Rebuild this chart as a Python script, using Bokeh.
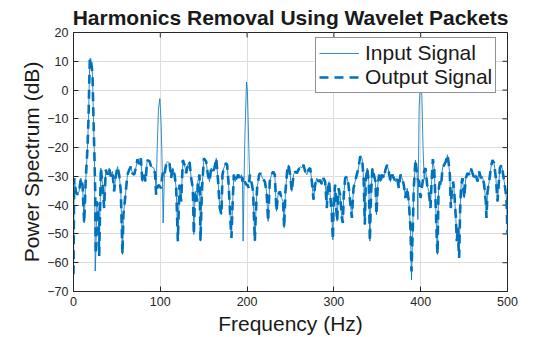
import math
from bokeh.plotting import figure
from bokeh.models import Legend, FixedTicker, Range1d
from bokeh.embed import file_html
from bokeh.resources import INLINE

freq_hz = [
    0.0, 0.8, 2.7, 4.6, 6.5, 8.4, 10.4, 12.3, 14.2, 16.1,
    17.3, 18.0, 18.8, 20.0, 21.0, 21.9, 23.0, 24.2, 25.0, 25.7,
    26.9, 28.4, 29.6, 31.5, 33.4, 35.3, 37.2, 39.2, 41.1, 43.0,
    44.9, 46.8, 48.7, 50.7, 52.6, 54.5, 56.4, 57.5, 59.5, 62.2,
    64.2, 66.0, 68.0, 69.9, 71.8, 73.7, 75.6, 77.6, 79.4, 81.4,
    83.0, 84.9, 87.6, 89.5, 92.6, 94.1, 95.2, 96.4, 97.9, 99.5,
    101.0, 102.2, 103.3, 104.8, 106.8, 108.7, 110.6, 112.5, 114.4, 116.4,
    118.3, 120.2, 122.1, 124.0, 126.0, 127.9, 129.8, 131.7, 133.6, 135.6,
    137.5, 138.6, 140.2, 142.5, 143.2, 145.2, 146.3, 147.9, 150.2, 152.8,
    154.8, 156.7, 158.6, 160.5, 162.4, 164.5, 166.6, 168.5, 170.5, 171.6,
    173.2, 175.5, 177.0, 178.5, 180.1, 181.2, 182.0, 183.1, 184.7, 186.2,
    187.8, 189.7, 191.6, 193.5, 194.7, 195.4, 197.3, 199.3, 200.4, 202.0,
    203.1, 205.0, 206.9, 208.9, 210.0, 211.5, 213.9, 215.4, 217.7, 220.4,
    222.4, 224.2, 226.1, 228.1, 230.0, 231.9, 233.8, 235.7, 237.7, 239.6,
    241.5, 242.7, 244.2, 246.1, 247.7, 249.6, 251.5, 253.5, 255.4, 257.3,
    259.2, 261.1, 263.1, 265.0, 266.9, 268.8, 270.7, 272.7, 274.6, 276.5,
    278.4, 280.3, 282.3, 284.2, 286.1, 288.0, 289.9, 291.9, 293.0, 294.5,
    295.7, 297.6, 298.8, 299.9, 301.5, 302.6, 303.8, 305.3, 307.2, 309.1,
    310.3, 311.4, 313.0, 314.9, 316.8, 318.7, 320.7, 322.6, 324.5, 326.4,
    328.3, 330.3, 332.5, 334.4, 335.6, 336.7, 338.3, 340.2, 341.4, 342.9,
    344.4, 346.0, 347.9, 349.0, 350.6, 352.1, 353.6, 355.6, 357.5, 359.4,
    361.3, 363.2, 365.2, 367.1, 369.0, 370.9, 372.8, 374.8, 376.7, 378.6,
    380.5, 382.4, 384.4, 386.3, 388.2, 389.4, 390.9, 392.0, 394.0, 395.9,
    396.7, 398.2, 399.8, 401.3, 402.7, 404.0, 405.5, 407.4, 409.3, 411.3,
    412.4, 414.0, 415.5, 417.4, 418.6, 419.4, 420.5, 422.0, 423.6, 425.1,
    427.0, 429.0, 430.9, 432.0, 433.6, 434.7, 435.9, 437.4, 438.6, 440.5,
    441.6, 442.8, 443.6, 444.3, 445.5, 446.6, 448.2, 450.1, 452.0, 453.9,
    455.8, 457.8, 459.7, 461.6, 463.5, 465.4, 467.4, 469.3, 471.2, 473.1,
    475.0, 475.8, 477.0, 478.9, 480.8, 482.7, 484.6, 486.6, 488.5, 489.6,
    491.2, 493.1, 495.0, 496.2, 497.3, 498.8, 500.0,
]

input_db = [
    -64.0, -30.6, -35.2, -36.4, -35.2, -30.6, -32.9, -46.2, -30.6, -20.2,
    -9.8, 0.5, 10.9, 11.0, 8.0, 5.2, -9.8, -23.7, -62.9, -57.1,
    -38.7, -41.0, -57.7, -27.1, -32.9, -41.0, -27.7, -29.4, -27.1, -30.0,
    -28.3, -35.2, -30.0, -26.6, -29.4, -35.2, -57.1, -43.3, -37.5, -29.4,
    -27.7, -26.6, -29.0, -29.4, -27.1, -24.0, -26.0, -23.7, -31.8, -29.4,
    -31.8, -24.3, -24.8, -26.6, -27.1, -29.4, -36.0, -20.2, -6.4, -3.0,
    -12.0, -27.0, -46.2, -28.3, -25.5, -24.8, -25.4, -30.6, -27.1, -29.4,
    -34.1, -52.5, -32.9, -38.7, -24.3, -26.0, -28.9, -26.0, -24.8, -30.6,
    -34.1, -50.2, -35.2, -38.7, -31.8, -29.4, -52.5, -35.2, -23.7, -24.8,
    -29.4, -31.8, -27.1, -28.3, -27.1, -23.7, -31.8, -41.0, -43.3, -29.4,
    -27.1, -25.4, -26.0, -31.8, -41.0, -47.9, -51.4, -41.0, -29.4, -31.8,
    -30.6, -29.4, -30.6, -29.4, -31.8, -52.5, -18.0, 2.8, -0.6, -20.2,
    -31.8, -31.8, -35.2, -52.5, -43.3, -34.1, -29.4, -28.9, -30.6, -31.8,
    -35.2, -45.6, -31.8, -29.4, -28.3, -29.4, -42.1, -36.4, -35.2, -37.5,
    -38.7, -47.9, -35.2, -28.3, -26.0, -29.4, -35.2, -29.4, -28.3, -28.9,
    -27.7, -26.6, -27.1, -26.0, -28.3, -29.4, -27.7, -27.1, -31.8, -38.1,
    -32.9, -30.6, -31.8, -31.2, -32.9, -30.6, -31.8, -41.0, -32.9, -31.8,
    -36.4, -43.3, -52.0, -37.5, -32.9, -41.0, -45.6, -34.1, -36.4, -44.4,
    -46.2, -36.4, -30.6, -30.0, -32.9, -38.7, -44.4, -34.1, -31.8, -29.4,
    -27.1, -23.1, -23.7, -31.8, -46.7, -31.8, -27.1, -31.8, -52.5, -35.2,
    -27.1, -29.4, -31.8, -43.3, -32.9, -29.4, -31.8, -29.4, -30.6, -27.7,
    -26.0, -28.3, -31.8, -29.4, -30.6, -31.8, -30.6, -34.1, -29.4, -30.6,
    -32.9, -37.5, -34.1, -38.7, -47.9, -66.0, -47.9, -34.1, -24.3, -29.4,
    -45.0, -6.4, 4.0, -2.0, -20.0, -31.0, -27.1, -32.9, -35.2, -41.0,
    -32.9, -24.0, -27.1, -41.0, -52.5, -57.1, -35.2, -31.8, -32.9, -27.1,
    -26.0, -24.8, -22.5, -24.8, -29.4, -41.0, -35.2, -31.8, -35.2, -44.4,
    -52.5, -47.9, -54.8, -58.3, -41.0, -32.9, -30.6, -37.5, -30.6, -28.9,
    -29.4, -27.1, -28.9, -30.6, -29.4, -31.8, -28.3, -30.6, -30.0, -32.9,
    -38.7, -44.4, -35.2, -31.8, -27.1, -24.3, -25.4, -30.6, -38.7, -34.1,
    -27.1, -26.0, -29.4, -31.8, -34.1, -37.5, -50.0,
]

output_db = [
    -64.0, -30.6, -35.2, -36.4, -35.2, -30.6, -32.9, -46.2, -30.6, -20.2,
    -9.8, 0.5, 10.9, 11.0, 8.0, 5.2, -9.8, -23.7, -35.2, -57.1,
    -38.7, -41.0, -57.7, -27.1, -32.9, -41.0, -27.7, -29.4, -27.1, -30.0,
    -28.3, -35.2, -30.0, -26.6, -29.4, -35.2, -57.1, -43.3, -37.5, -29.4,
    -27.7, -26.6, -29.0, -29.4, -27.1, -24.0, -26.0, -23.7, -31.8, -29.4,
    -31.8, -24.3, -24.8, -26.6, -27.1, -29.4, -36.4, -34.0, -33.0, -33.5,
    -34.1, -30.0, -28.3, -29.4, -25.5, -24.8, -25.4, -30.6, -27.1, -29.4,
    -34.1, -52.5, -32.9, -38.7, -24.3, -26.0, -28.9, -26.0, -24.8, -30.6,
    -34.1, -50.2, -35.2, -38.7, -31.8, -29.4, -52.5, -35.2, -23.7, -24.8,
    -29.4, -31.8, -27.1, -28.3, -27.1, -23.7, -31.8, -41.0, -43.3, -29.4,
    -27.1, -25.4, -26.0, -31.8, -41.0, -47.9, -51.4, -41.0, -29.4, -31.8,
    -30.6, -29.4, -30.6, -29.4, -31.8, -30.0, -31.8, -33.0, -32.9, -34.1,
    -29.4, -31.8, -35.2, -52.5, -43.3, -34.1, -29.4, -28.9, -30.6, -31.8,
    -35.2, -45.6, -31.8, -29.4, -28.3, -29.4, -42.1, -36.4, -35.2, -37.5,
    -38.7, -47.9, -35.2, -28.3, -26.0, -29.4, -35.2, -29.4, -28.3, -28.9,
    -27.7, -26.6, -27.1, -26.0, -28.3, -29.4, -27.7, -27.1, -31.8, -38.1,
    -32.9, -30.6, -31.8, -31.2, -32.9, -30.6, -31.8, -41.0, -32.9, -31.8,
    -36.4, -43.3, -52.0, -37.5, -32.9, -41.0, -45.6, -34.1, -36.4, -44.4,
    -46.2, -36.4, -30.6, -30.0, -32.9, -38.7, -44.4, -34.1, -31.8, -29.4,
    -27.1, -23.1, -23.7, -31.8, -46.7, -31.8, -27.1, -31.8, -52.5, -35.2,
    -27.1, -29.4, -31.8, -43.3, -32.9, -29.4, -31.8, -29.4, -30.6, -27.7,
    -26.0, -28.3, -31.8, -29.4, -30.6, -31.8, -30.6, -34.1, -29.4, -30.6,
    -32.9, -37.5, -34.1, -38.7, -47.9, -63.0, -47.9, -34.1, -24.3, -29.4,
    -31.0, -31.8, -37.5, -34.1, -31.0, -28.3, -27.1, -32.9, -35.2, -41.0,
    -32.9, -24.0, -27.1, -41.0, -52.5, -57.1, -35.2, -31.8, -32.9, -27.1,
    -26.0, -24.8, -22.5, -24.8, -29.4, -41.0, -35.2, -31.8, -35.2, -44.4,
    -52.5, -47.9, -54.8, -58.3, -41.0, -32.9, -30.6, -37.5, -30.6, -28.9,
    -29.4, -27.1, -28.9, -30.6, -29.4, -31.8, -28.3, -30.6, -30.0, -32.9,
    -38.7, -44.4, -35.2, -31.8, -27.1, -24.3, -25.4, -30.6, -38.7, -34.1,
    -27.1, -26.0, -29.4, -31.8, -34.1, -37.5, -50.0,
]

x_ticks = [0, 100, 200, 300, 400, 500]
y_ticks = [-70, -60, -50, -40, -30, -20, -10, 0, 10, 20]
x_lim = (0, 500)
y_lim = (-70, 20)

FONT = "Liberation Sans"
AX = "#262626"
BLUE = "#0072BD"

p = figure(width=560, height=337, output_backend="svg", toolbar_location=None,
           x_range=Range1d(*x_lim), y_range=Range1d(*y_lim),
           min_border_left=73, min_border_right=53, min_border_top=31,
           min_border_bottom=46, background_fill_color="white",
           border_fill_color="white")

p.title.text = "Harmonics Removal Using Wavelet Packets"
p.title.align = "center"
p.title.text_font = FONT
p.title.text_font_size = "21px"
p.title.text_font_style = "bold"
p.title.text_color = "#1a1a1a"
p.title.standoff = 7

p.outline_line_color = AX
p.outline_line_width = 1

p.xgrid.ticker = FixedTicker(ticks=x_ticks)
p.ygrid.ticker = FixedTicker(ticks=y_ticks)
p.grid.grid_line_color = "#dedede"
p.grid.grid_line_width = 1

for ax in (p.xaxis[0], p.yaxis[0]):
    ax.major_tick_in = 5
    ax.major_tick_out = 0
    ax.minor_tick_in = 0
    ax.minor_tick_out = 0
    ax.axis_line_color = AX
    ax.major_tick_line_color = AX
    ax.major_label_text_font = FONT
    ax.major_label_text_font_size = "12.5px"
    ax.major_label_text_color = AX
    ax.axis_label_text_font = FONT
    ax.axis_label_text_font_size = "21px"
    ax.axis_label_text_font_style = "normal"
    ax.axis_label_text_color = "#1a1a1a"

p.xaxis[0].ticker = FixedTicker(ticks=x_ticks)
p.yaxis[0].ticker = FixedTicker(ticks=y_ticks)
p.xaxis[0].axis_label = "Frequency (Hz)"
p.yaxis[0].axis_label = "Power Spectrum (dB)"
p.xaxis[0].major_label_standoff = 5
p.yaxis[0].major_label_standoff = 5
p.xaxis[0].axis_label_standoff = 3
p.yaxis[0].axis_label_standoff = 1

# inward tick marks on the top and right edges of the box (clipped to the frame)
p.scatter(x_ticks, [y_lim[1]] * len(x_ticks), marker="dash", size=10,
          angle=math.pi / 2, line_color=AX, line_width=1)
p.scatter([x_lim[1]] * len(y_ticks), y_ticks, marker="dash", size=10,
          line_color=AX, line_width=1)

r_in = p.line(freq_hz, input_db, line_color=BLUE, line_width=0.9, line_alpha=0.9)
r_out = p.line(freq_hz, output_db, line_color=BLUE, line_width=2.6, line_dash="9 6")

legend = Legend(items=[("Input Signal", [r_in]), ("Output Signal", [r_out])],
                location=(242, 198))
legend.border_line_color = AX
legend.border_line_width = 1
legend.background_fill_color = "white"
legend.background_fill_alpha = 1
legend.label_text_font = FONT
legend.label_text_font_size = "21px"
legend.label_text_color = "#1a1a1a"
legend.glyph_width = 40
legend.glyph_height = 22
legend.label_height = 22
legend.spacing = 0
legend.padding = 3
legend.margin = 0
legend.label_standoff = 6
p.add_layout(legend)

open("out.html", "w").write(file_html(p, INLINE))
